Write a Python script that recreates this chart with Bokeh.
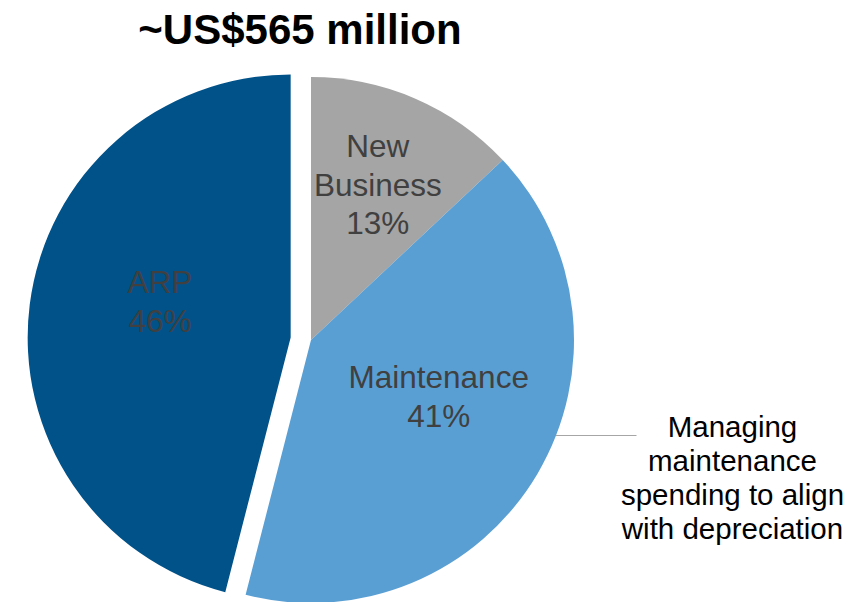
import numpy as np
from bokeh.plotting import figure
from bokeh.models import Range1d, ColumnDataSource
from bokeh.core.properties import value
from bokeh.embed import file_html
from bokeh.resources import INLINE

# ---- data ----
categories = ["New Business", "Maintenance", "ARP"]
shares = [13, 41, 46]
colors = ["#A5A5A5", "#5A9FD3", "#02528A"]
title_text = "~US$565 million"
note_text = "Managing\nmaintenance\nspending to align\nwith depreciation"

# ---- layout (pixels) ----
W, H = 861, 602
FONT = "Liberation Sans"

def to_data(X, Y):
    return X, H - Y

cx, cy = to_data(310.5, 339.5)
R = 263
explode = [0, 0, 20.5]
label_r = [0.64, 0.52, 0.52]
label_nudge = [(0, 1), (10, 13), (5, 19)]

p = figure(width=W, height=H, output_backend="svg", toolbar_location=None,
           x_range=Range1d(0, W), y_range=Range1d(0, H), min_border=0)
p.axis.visible = False
p.grid.visible = False
p.outline_line_color = None
p.background_fill_color = "white"
p.border_fill_color = "white"

vals = np.array(shares, dtype=float)
frac = vals / vals.sum()
cum = np.concatenate([[0], np.cumsum(frac)])
theta0 = cum[:-1] * 2 * np.pi      # clockwise from 12 o'clock
theta1 = cum[1:] * 2 * np.pi
mid = (theta0 + theta1) / 2

xs, ys, starts, ends = [], [], [], []
lx, ly, ltext = [], [], []
for i in range(len(categories)):
    ox = cx + explode[i] * np.sin(mid[i])
    oy = cy + explode[i] * np.cos(mid[i])
    xs.append(ox); ys.append(oy)
    starts.append(np.pi / 2 - theta0[i])
    ends.append(np.pi / 2 - theta1[i])
    lx.append(ox + label_r[i] * R * np.sin(mid[i]) + label_nudge[i][0])
    ly.append(oy + label_r[i] * R * np.cos(mid[i]) + label_nudge[i][1])
    ltext.append(categories[i].replace(" ", "\n") + "\n" + f"{shares[i]}%")

src = ColumnDataSource(dict(x=xs, y=ys, start=starts, end=ends, color=colors))
p.wedge(x="x", y="y", radius=R, start_angle="start", end_angle="end",
        direction="clock", fill_color="color", line_color=None, source=src)

lsrc = ColumnDataSource(dict(x=lx, y=ly, text=ltext))
p.text(x="x", y="y", text="text", source=lsrc, text_align="center",
       text_baseline="middle", text_font=value(FONT), text_font_size="31.5px",
       text_color="#404040", text_line_height=1.08)

# title
tx, ty = to_data(299.5, 29)
p.text(x=[tx], y=[ty], text=[title_text], text_align="center",
       text_baseline="middle", text_font=value(FONT),
       text_font_size="42px", text_font_style="bold", text_color="#000000")

# annotation line from the Maintenance slice edge
_, ay = to_data(0, 435)
x_edge = cx + np.sqrt(R ** 2 - (ay - cy) ** 2)
x_end, _ = to_data(636, 0)
p.line(x=[x_edge, x_end], y=[ay, ay], line_color="#A6A6A6", line_width=1)

nx, ny = to_data(732, 477)
p.text(x=[nx], y=[ny], text=[note_text], text_align="center",
       text_baseline="middle", text_font=value(FONT), text_font_size="29.5px",
       text_color="#000000", text_line_height=1.04)

open("out.html", "w").write(file_html(p, INLINE))
